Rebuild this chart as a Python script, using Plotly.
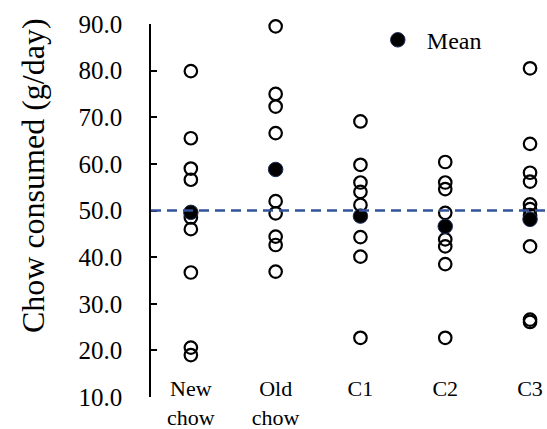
import plotly.graph_objects as go

categories = ["New<br>chow", "Old<br>chow", "C1", "C2", "C3"]
new_chow = [79.9, 65.5, 59.0, 56.6, 48.5, 46.0, 36.7, 20.6, 19.0]
old_chow = [89.5, 75.0, 72.3, 66.6, 52.0, 49.4, 44.4, 42.6, 36.9]
c1 = [69.1, 59.8, 56.0, 54.0, 51.2, 44.3, 40.1, 22.7]
c2 = [60.4, 56.0, 54.6, 49.5, 43.8, 42.3, 38.5, 22.7]
c3 = [80.5, 64.3, 58.1, 56.2, 51.3, 50.3, 49.0, 42.3, 26.6, 26.1]
means = [49.6, 58.8, 48.8, 46.6, 48.1]
reference_level = 50.0
y_ticks = [10, 20, 30, 40, 50, 60, 70, 80, 90]

groups = [new_chow, old_chow, c1, c2, c3]
xs, ys = [], []
for i, g in enumerate(groups):
    xs += [i] * len(g)
    ys += g

FONT = "Liberation Serif"

fig = go.Figure()
fig.add_trace(go.Scatter(
    x=xs, y=ys, mode="markers", showlegend=False, cliponaxis=False,
    marker=dict(symbol="circle-open", size=12.5, color="black",
                line=dict(width=2.2, color="black")),
))
fig.add_trace(go.Scatter(
    x=list(range(len(categories))), y=means, mode="markers", name="Mean",
    cliponaxis=False,
    marker=dict(symbol="circle", size=14.5, color="black",
                line=dict(width=1, color="#1c2c58")),
))

fig.add_shape(type="line", xref="x domain", x0=0, x1=1, yref="y",
              y0=reference_level, y1=reference_level,
              line=dict(color="#34539c", width=2.5, dash="10px,6px"))

fig.add_annotation(text="Chow consumed (g/day)", textangle=-90,
                   xref="paper", yref="paper", x=-0.298, y=0.627,
                   xanchor="center", yanchor="middle",
                   showarrow=False, font=dict(family=FONT, size=32, color="black"))

fig.update_layout(
    width=547, height=429,
    margin=dict(l=151, r=0, t=24, b=0),
    paper_bgcolor="white", plot_bgcolor="white",
    font=dict(family=FONT, color="black"),
    showlegend=True,
    legend=dict(x=0.55, y=0.96, xanchor="left", yanchor="middle", itemwidth=48,
                bgcolor="rgba(0,0,0,0)", font=dict(family=FONT, size=24, color="black")),
    xaxis=dict(range=[-0.47, 4.2], anchor="free", position=0.138, automargin=False,
               tickvals=list(range(len(categories))), ticktext=categories,
               showline=False, showgrid=False, zeroline=False, ticks="",
               tickfont=dict(family=FONT, size=22, color="black")),
    yaxis=dict(range=[10, 90], domain=[32/405, 1], tickvals=y_ticks, automargin=False,
               tickformat=".1f", ticks="inside", ticklen=6, tickwidth=1.5,
               tickcolor="black", showline=True, linewidth=1.5, linecolor="black",
               showgrid=False, zeroline=False, ticklabelstandoff=22,
               tickfont=dict(family=FONT, size=25, color="black")),
)

fig.write_html("out.html")
